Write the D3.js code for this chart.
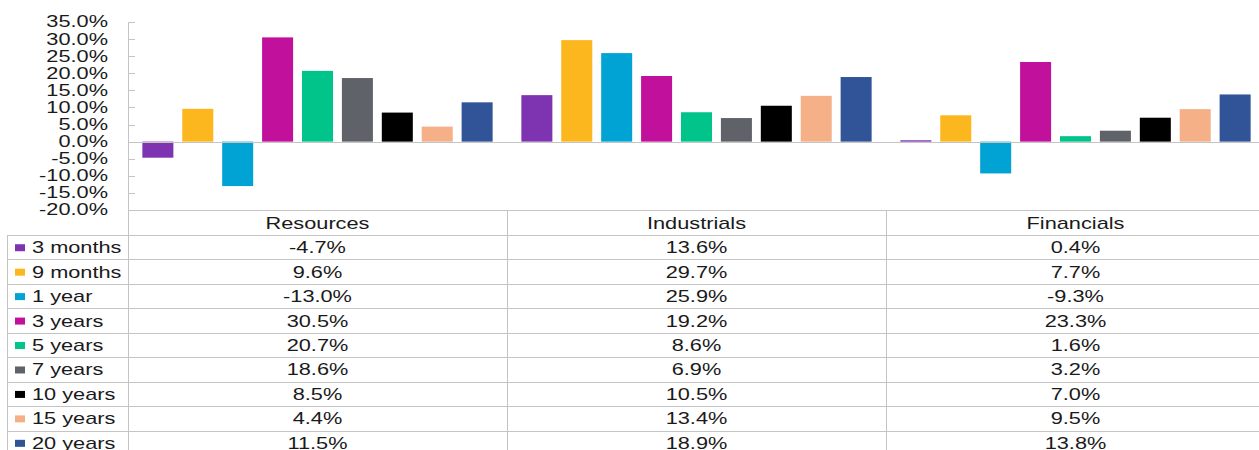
<!DOCTYPE html>
<html><head><meta charset="utf-8">
<script src="https://cdn.jsdelivr.net/npm/d3@7"></script>
<style>html,body{margin:0;padding:0;background:#fff;}svg{display:block;}</style>
</head><body>
<svg id="c" width="1259" height="450"></svg>
<script>
const categories = ["Resources", "Industrials", "Financials"];
const seriesNames = ["3 months", "9 months", "1 year", "3 years", "5 years", "7 years", "10 years", "15 years", "20 years"];
const seriesColors = ["#7E33B1", "#FDB71E", "#00A3D4", "#C1119C", "#00C48A", "#5F6268", "#000000", "#F5B087", "#305497"];
const resources = [-4.7, 9.6, -13.0, 30.5, 20.7, 18.6, 8.5, 4.4, 11.5];
const industrials = [13.6, 29.7, 25.9, 19.2, 8.6, 6.9, 10.5, 13.4, 18.9];
const financials = [0.4, 7.7, -9.3, 23.3, 1.6, 3.2, 7.0, 9.5, 13.8];
const yTicks = [35, 30, 25, 20, 15, 10, 5, 0, -5, -10, -15, -20];

const catValues = [resources, industrials, financials];
const svg = d3.select("#c");
const SX = 1.36;
const lineColor = "#c4c4c4";
const font = "'Liberation Sans', Arial, sans-serif";
const fmt = d3.formatLocale({decimal: ".", thousands: ",", grouping: [3], currency: ["", ""], minus: "-"}).format(".1f");

const axisX = 128, plotTop = 22, plotBottom = 210;
const tableLeft = 7, rowH = 24.45, headerBottom = 235;

const x0 = d3.scaleBand().domain(categories).range([axisX, axisX + 379 * 3]);
const x1 = d3.scaleBand().domain(seriesNames).range([0, x0.bandwidth()]).paddingInner(0.223).paddingOuter(0.36);
const y = d3.scaleLinear().domain([-20, 35]).range([plotBottom, plotTop]);

function txt(g, x, yy, s, anchor) {
  return g.append("text")
    .attr("transform", `translate(${x},${yy}) scale(${SX},1)`)
    .attr("text-anchor", anchor)
    .attr("dominant-baseline", "central")
    .attr("font-family", font).attr("font-size", 16).attr("fill", "#1a1a1a")
    .text(s);
}

// bars
categories.forEach((c, ci) => {
  const g = svg.append("g").attr("transform", `translate(${x0(c)},0)`);
  seriesNames.forEach((s, si) => {
    const v = catValues[ci][si];
    g.append("rect")
      .attr("x", x1(s)).attr("width", x1.bandwidth())
      .attr("y", y(Math.max(0, v))).attr("height", Math.abs(y(v) - y(0)))
      .attr("fill", seriesColors[si]);
  });
});

// zero line
const lines = svg.append("g").attr("stroke", lineColor).attr("stroke-width", 1).attr("fill", "none").attr("shape-rendering", "crispEdges");
lines.append("line").attr("x1", axisX).attr("x2", 1259).attr("y1", Math.round(y(0)) + 0.5).attr("y2", Math.round(y(0)) + 0.5);

// y axis
const yAxis = svg.append("g").attr("transform", `translate(${axisX},0)`)
  .call(d3.axisRight(y).tickValues(yTicks).tickSize(7).tickFormat(""));
yAxis.select(".domain").remove();
yAxis.selectAll("line").attr("stroke", lineColor).attr("shape-rendering", "crispEdges");
const labG = svg.append("g");
yTicks.forEach(t => txt(labG, 108, y(t), fmt(t) + "%", "end"));

// table grid
const nRows = seriesNames.length;
const tableBottom = headerBottom + rowH * (nRows + 1);
lines.append("line").attr("x1", axisX + 0.5).attr("x2", axisX + 0.5).attr("y1", plotTop).attr("y2", tableBottom);
lines.append("line").attr("x1", axisX).attr("x2", 1259).attr("y1", plotBottom + 0.5).attr("y2", plotBottom + 0.5);
lines.append("line").attr("x1", tableLeft + 0.5).attr("x2", tableLeft + 0.5).attr("y1", headerBottom).attr("y2", tableBottom);
categories.forEach(c => {
  const xe = Math.round(x0(c) + x0.bandwidth()) + 0.5;
  lines.append("line").attr("x1", xe).attr("x2", xe).attr("y1", plotBottom).attr("y2", tableBottom);
});
for (let r = 0; r <= nRows; r++) {
  const yy = Math.round(headerBottom + r * rowH) + 0.5;
  lines.append("line").attr("x1", tableLeft).attr("x2", 1259).attr("y1", yy).attr("y2", yy);
}

// header
const tg = svg.append("g");
categories.forEach(c => txt(tg, x0(c) + x0.bandwidth() / 2, (plotBottom + headerBottom) / 2 + 1, c, "middle"));

// rows
seriesNames.forEach((s, si) => {
  const cy = headerBottom + si * rowH + rowH / 2 + 0.5;
  tg.append("rect").attr("x", 15).attr("y", cy - 3.5).attr("width", 10).attr("height", 7).attr("fill", seriesColors[si]);
  txt(tg, 32, cy, s, "start");
  categories.forEach((c, ci) => {
    txt(tg, x0(c) + x0.bandwidth() / 2, cy, fmt(catValues[ci][si]) + "%", "middle");
  });
});
</script>
</body></html>
